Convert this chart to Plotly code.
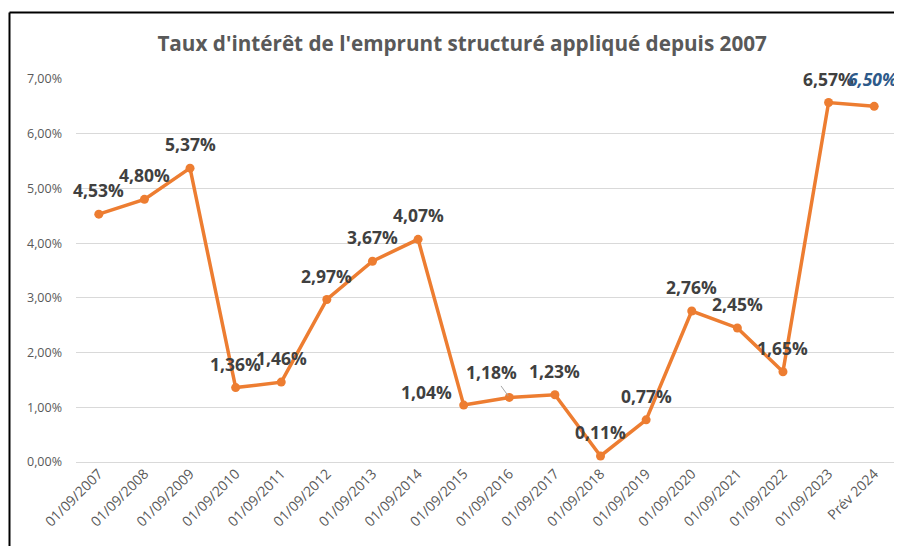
import plotly.graph_objects as go

categories = ["01/09/2007", "01/09/2008", "01/09/2009", "01/09/2010", "01/09/2011",
              "01/09/2012", "01/09/2013", "01/09/2014", "01/09/2015", "01/09/2016",
              "01/09/2017", "01/09/2018", "01/09/2019", "01/09/2020", "01/09/2021",
              "01/09/2022", "01/09/2023", "Prév 2024"]
rates = [4.53, 4.80, 5.37, 1.36, 1.46, 2.97, 3.67, 4.07, 1.04, 1.18,
         1.23, 0.11, 0.77, 2.76, 2.45, 1.65, 6.57, 6.50]
y_ticks = [0, 1, 2, 3, 4, 5, 6, 7]

title = "Taux d'intérêt de l'emprunt structuré appliqué depuis 2007"


def fmt(v):
    return f"{v:.2f}".replace(".", ",") + "%"


fig = go.Figure()
fig.add_trace(go.Scatter(
    x=categories, y=rates, mode="lines+markers",
    line=dict(color="#ED7D31", width=3.5),
    marker=dict(color="#ED7D31", size=9),
    hoverinfo="skip", showlegend=False,
))

label_font = dict(family="Open Sans", size=17.5, color="#404040", weight="bold")
annotations = []
for c, v in zip(categories, rates):
    base = dict(x=c, y=v, text=fmt(v), xref="x", yref="y", font=label_font)
    if c == "01/09/2015":
        base.update(showarrow=False, xshift=-37, yshift=13)
    elif c == "01/09/2016":
        base.update(showarrow=True, ax=-18, ay=-25, arrowhead=0, arrowwidth=1,
                    arrowcolor="#A6A6A6", standoff=2)
    elif c == "Prév 2024":
        base.update(showarrow=False, yshift=27, xshift=-2,
                    font=dict(family="Open Sans", size=17.5, color="#2E5A8A",
                              weight="bold", style="italic"))
    else:
        base.update(showarrow=False, yshift=24)
    annotations.append(base)

fig.update_layout(
    width=894, height=538,
    margin=dict(l=68, r=5, t=71, b=84),
    paper_bgcolor="white", plot_bgcolor="white",
    title=dict(text=title, x=0.508, xanchor="center", y=0.933, yanchor="middle",
               font=dict(family="Open Sans", size=20.7, color="#595959", weight="bold")),
    xaxis=dict(type="category", range=[-0.5, 17.5], tickangle=-45, showgrid=False,
               showline=False, ticks="", automargin=False,
               tickfont=dict(family="Open Sans", size=14, color="#595959")),
    yaxis=dict(range=[0, 7], tickvals=y_ticks, ticktext=[fmt(t) for t in y_ticks],
               showgrid=True, gridcolor="#D9D9D9", gridwidth=1, zeroline=True,
               zerolinecolor="#D9D9D9", zerolinewidth=1, ticks="", showline=False,
               automargin=False, ticklabelstandoff=13,
               tickfont=dict(family="Open Sans", size=12.5, color="#595959")),
    annotations=annotations,
    shapes=[
        dict(type="line", xref="paper", yref="paper", x0=-0.081, x1=1.006,
             y0=1.1736, y1=1.1736, line=dict(color="black", width=2)),
        dict(type="line", xref="paper", yref="paper", x0=-0.081, x1=-0.081,
             y0=1.1736, y1=-0.22, line=dict(color="black", width=2)),
    ],
)

fig.write_html("out.html")
